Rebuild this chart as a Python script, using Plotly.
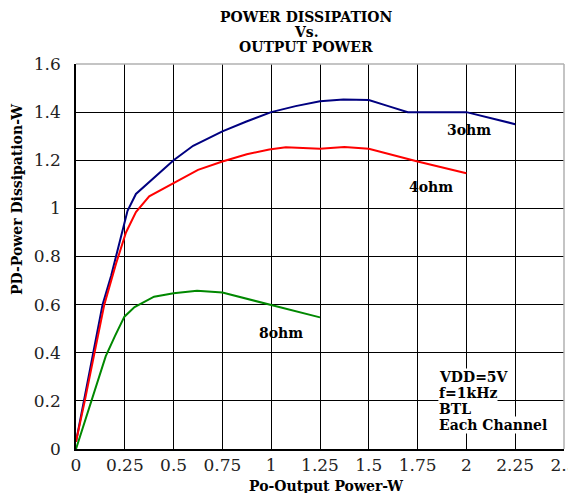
import plotly.graph_objects as go

# ---- data ----
x_3ohm = [0, 0.04, 0.136, 0.18, 0.264, 0.307, 0.392, 0.5, 0.6, 0.75, 0.87, 1.0, 1.125, 1.25, 1.37, 1.5, 1.6, 1.7, 2.0, 2.25]
y_3ohm = [0.03, 0.2, 0.6, 0.72, 0.99, 1.06, 1.12, 1.2, 1.26, 1.32, 1.36, 1.40, 1.425, 1.445, 1.452, 1.45, 1.425, 1.40, 1.40, 1.35]

x_4ohm = [0, 0.045, 0.145, 0.205, 0.256, 0.307, 0.375, 0.5, 0.625, 0.75, 0.875, 0.99, 1.075, 1.25, 1.375, 1.5, 1.75, 2.0]
y_4ohm = [0.03, 0.2, 0.6, 0.77, 0.9, 0.985, 1.05, 1.105, 1.16, 1.195, 1.225, 1.245, 1.254, 1.248, 1.255, 1.248, 1.195, 1.146]

x_8ohm = [0, 0.08, 0.152, 0.2, 0.248, 0.3, 0.4, 0.5, 0.62, 0.75, 0.875, 1.0, 1.125, 1.25]
y_8ohm = [0, 0.2, 0.385, 0.47, 0.55, 0.59, 0.633, 0.647, 0.658, 0.65, 0.625, 0.6, 0.574, 0.547]

x_ticks = [0, 0.25, 0.5, 0.75, 1, 1.25, 1.5, 1.75, 2, 2.25, 2.5]
x_ticktext = ["0", "0.25", "0.5", "0.75", "1", "1.25", "1.5", "1.75", "2", "2.25", "2.5"]
y_ticks = [0, 0.2, 0.4, 0.6, 0.8, 1.0, 1.2, 1.4, 1.6]
y_ticktext = ["0", "0.2", "0.4", "0.6", "0.8", "1", "1.2", "1.4", "1.6"]

title_lines = ["POWER DISSIPATION", "Vs.", "OUTPUT POWER"]
cond_lines = ["VDD=5V", "f=1kHz", "BTL", "Each Channel"]

SERIF = "DejaVu Serif"
BOLD = dict(family=SERIF, size=14, color="black", weight="bold")

fig = go.Figure()
fig.add_trace(go.Scatter(x=x_3ohm, y=y_3ohm, mode="lines", line=dict(color="#000080", width=2), name="3ohm"))
fig.add_trace(go.Scatter(x=x_4ohm, y=y_4ohm, mode="lines", line=dict(color="#ff0000", width=2), name="4ohm"))
fig.add_trace(go.Scatter(x=x_8ohm, y=y_8ohm, mode="lines", line=dict(color="#008800", width=2), name="8ohm"))

# page offset of the plot div (default body margin)
OFF = 8
W, H = 576, 501
FW, FH = W - OFF, H - 2 * OFF   # keep the page from scrolling
# plot area in screen pixels
PL, PR, PT, PB = 76, 564, 64, 449
pw, ph = PR - PL, PB - PT

def px(xp):
    return (xp - PL) / pw

def py(yp):
    return (PB - yp) / ph

ann = []
for i, t in enumerate(title_lines):
    ann.append(dict(text=t, x=px(306), y=py(17 + 15 * i), xref="paper", yref="paper",
                    showarrow=False, font=BOLD, xanchor="center", yanchor="middle"))
ann.append(dict(text="Po-Output Power-W", x=px(326), y=py(486), xref="paper", yref="paper",
                showarrow=False, font=BOLD, xanchor="center", yanchor="middle"))
ann.append(dict(text="PD-Power Dissipation-W", x=px(17), y=py(200), xref="paper", yref="paper",
                showarrow=False, font=BOLD, xanchor="center", yanchor="middle", textangle=-90))
ann.append(dict(text="3ohm", x=2.015, y=1.326, showarrow=False, font=BOLD))
ann.append(dict(text="4ohm", x=1.82, y=1.09, showarrow=False, font=BOLD))
ann.append(dict(text="8ohm", x=1.05, y=0.482, showarrow=False, font=BOLD))
for i, t in enumerate(cond_lines):
    ann.append(dict(text=t, x=px(438), y=py(377 + 16 * i), xref="paper", yref="paper",
                    showarrow=False, font=BOLD, xanchor="left", yanchor="middle",
                    bgcolor="white", borderpad=0))

fig.update_layout(
    width=FW, height=FH,
    margin=dict(l=PL - OFF, r=(OFF + FW) - PR, t=PT - OFF, b=(OFF + FH) - PB, autoexpand=False),
    paper_bgcolor="white", plot_bgcolor="white",
    showlegend=False,
    annotations=ann,
    shapes=[
        dict(type="line", xref="paper", yref="paper", x0=0, x1=1, y0=1, y1=1,
             line=dict(color="#b0b0b0", width=1.5), layer="above"),
        dict(type="line", xref="paper", yref="paper", x0=1, x1=1, y0=0, y1=1,
             line=dict(color="#b0b0b0", width=1.5), layer="above"),
    ],
)
fig.update_xaxes(range=[0, 2.5], tickvals=x_ticks, ticktext=x_ticktext,
                 showgrid=True, gridcolor="black", gridwidth=1,
                 showline=True, linecolor="black", linewidth=1.5, zeroline=False,
                 ticks="", ticklabeloverflow="allow",
                 tickfont=dict(family=SERIF, size=17, color="#222"))
fig.update_yaxes(range=[0, 1.6], tickvals=y_ticks, ticktext=y_ticktext,
                 showgrid=True, gridcolor="black", gridwidth=1,
                 showline=True, linecolor="black", linewidth=1.5, zeroline=False,
                 ticks="outside", ticklen=10, tickcolor="rgba(0,0,0,0)",
                 ticklabeloverflow="allow",
                 tickfont=dict(family=SERIF, size=17, color="#222"))

fig.write_html("out.html")
